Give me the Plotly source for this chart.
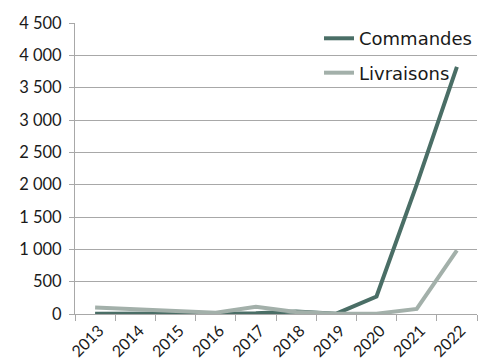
import plotly.graph_objects as go

years = [2013, 2014, 2015, 2016, 2017, 2018, 2019, 2020, 2021, 2022]
year_labels = [str(y) for y in years]
commandes = [5, 5, 15, 10, 10, 40, 5, 270, 2000, 3820]
livraisons = [100, 70, 35, 20, 113, 30, 5, 5, 78, 985]

TICK_FONT = "Lato"
LEGEND_FONT = "DejaVu Sans"
GRID = "#a8a8a8"
TEXT = "#1a1a1a"

fig = go.Figure()
fig.add_trace(go.Scatter(x=years, y=commandes, name="Commandes", mode="lines",
                         legendgroup="c", line=dict(color="#4a6e66", width=4)))
fig.add_trace(go.Scatter(x=years, y=livraisons, name="Livraisons", mode="lines",
                         legendgroup="l", line=dict(color="#a3b0aa", width=4)))

fig.update_layout(
    width=478, height=362,
    margin=dict(l=75, r=1, t=23, b=48),
    paper_bgcolor="white", plot_bgcolor="white",
    separators=", ",
    font=dict(family=TICK_FONT, size=16, color=TEXT),
    showlegend=True,
    legend=dict(x=1.0, y=1.01, xanchor="right", yanchor="top",
                bgcolor="rgba(0,0,0,0)",
                font=dict(family=LEGEND_FONT, size=18, color=TEXT),
                tracegroupgap=8, itemwidth=30),
    xaxis=dict(range=[years[0] - 0.5, years[-1] + 0.5], automargin=False,
               tickmode="array", tickvals=years, ticktext=year_labels,
               ticks="", tickangle=-45, ticklabelshift=4,
               tickfont=dict(family=TICK_FONT, size=16, color=TEXT),
               minor=dict(ticks="outside", tick0=years[0] - 0.5, dtick=1,
                          ticklen=6, tickcolor=GRID, showgrid=False),
               showline=True, linecolor=GRID, linewidth=1,
               showgrid=False, zeroline=False),
    yaxis=dict(range=[0, 4500], dtick=500, separatethousands=True, automargin=False,
               showgrid=True, gridcolor=GRID, gridwidth=1,
               showline=True, linecolor=GRID, ticks="outside", ticklen=5,
               tickcolor=GRID, zeroline=False, ticklabelstandoff=4,
               tickfont=dict(family=TICK_FONT, size=16.5, color=TEXT)),
)

fig.write_html("out.html")
